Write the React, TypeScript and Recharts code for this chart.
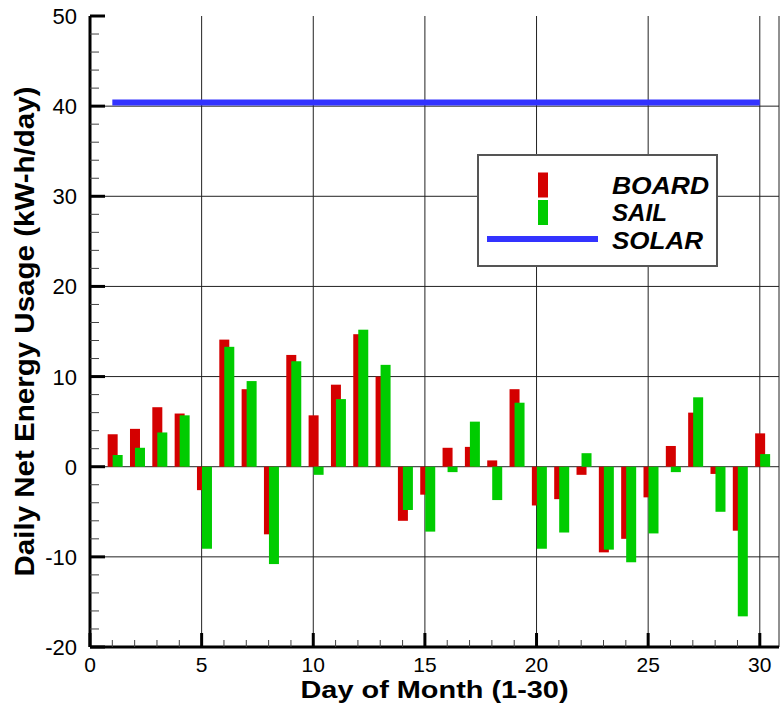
import { Bar, CartesianGrid, ComposedChart, Label, Line, XAxis, YAxis } from "recharts";

// Daily net energy usage, kW-h/day.
const DAYS = [1, 2, 3, 4, 5, 6, 7, 8, 9, 10, 11, 12, 13, 14, 15, 16, 17, 18, 19, 20, 21, 22, 23, 24, 25, 26, 27, 28, 29, 30];
const BOARD = [3.6, 4.2, 6.6, 5.9, -2.6, 14.1, 8.6, -7.5, 12.4, 5.7, 9.1, 14.7, 10.0, -6.0, -3.1, 2.1, 2.2, 0.7, 8.6, -4.3, -3.6, -0.9, -9.5, -8.0, -3.4, 2.3, 6.0, -0.8, -7.1, 3.7];
const SAIL = [1.3, 2.1, 3.8, 5.7, -9.1, 13.3, 9.5, -10.8, 11.7, -0.9, 7.5, 15.2, 11.3, -4.8, -7.2, -0.6, 5.0, -3.7, 7.1, -9.1, -7.3, 1.5, -9.2, -10.6, -7.4, -0.6, 7.7, -5.0, -16.6, 1.4];
const SOLAR = [40.4, 40.4, 40.4, 40.4, 40.4, 40.4, 40.4, 40.4, 40.4, 40.4, 40.4, 40.4, 40.4, 40.4, 40.4, 40.4, 40.4, 40.4, 40.4, 40.4, 40.4, 40.4, 40.4, 40.4, 40.4, 40.4, 40.4, 40.4, 40.4, 40.4];

const X_TICKS = [0, 1, 2, 3, 4, 5, 6, 7, 8, 9, 10, 11, 12, 13, 14, 15, 16, 17, 18, 19, 20, 21, 22, 23, 24, 25, 26, 27, 28, 29, 30];
const X_LABELS = [0, 5, 10, 15, 20, 25, 30];
const Y_TICKS = [-20, -18, -16, -14, -12, -10, -8, -6, -4, -2, 0, 2, 4, 6, 8, 10, 12, 14, 16, 18, 20, 22, 24, 26, 28, 30, 32, 34, 36, 38, 40, 42, 44, 46, 48, 50];
const Y_LABELS = [-20, -10, 0, 10, 20, 30, 40, 50];
const X_MAX = 30.86;

const RED = "#d40000";
const GREEN = "#00cc00";
const BLUE = "#3333ff";
const FONT = "'Liberation Sans', Arial, Helvetica, sans-serif";

const rows = DAYS.map((day, i) => ({ day, board: BOARD[i], sail: SAIL[i], solar: SOLAR[i] }));

// Tecplot style: ticks point into the plot, labels only on the majors.
function XTick(props: any) {
  const { x, y, payload } = props;
  const major = X_LABELS.includes(payload.value);
  return (
    <g>
      <line x1={x} x2={x} y1={y} y2={y - (major ? 14 : 7)} stroke={major ? "#000" : "#444"} strokeWidth={major ? 3 : 1} />
      {major && (
        <text x={x} y={y + 25} textAnchor="middle" fontSize={21} fontFamily={FONT} fill="#000">
          {payload.value}
        </text>
      )}
    </g>
  );
}

function YTick(props: any) {
  const { x, y, payload } = props;
  const major = Y_LABELS.includes(payload.value);
  return (
    <g>
      <line x1={x} x2={x + (major ? 15 : 9)} y1={y} y2={y} stroke={major ? "#000" : "#444"} strokeWidth={major ? 3 : 1} />
      {major && (
        <text x={x - 13} y={y + 8} textAnchor="end" fontSize={22} fontFamily={FONT} fill="#000">
          {payload.value}
        </text>
      )}
    </g>
  );
}

// bars sit a little right of the day, board first, sail overlapping it
function barShape(fill: string) {
  return (p: any) => {
    const top = Math.min(p.y, p.y + p.height);
    return <rect x={p.x + 2.5} y={top} width={p.width} height={Math.abs(p.height)} fill={fill} />;
  };
}

function XTitle(props: any) {
  const { x, width, y } = props.viewBox;
  return (
    <text x={x + width / 2} y={y + 51} textAnchor="middle" fontSize={24} fontWeight="bold" fontFamily={FONT}
      textLength={268} lengthAdjust="spacingAndGlyphs">
      Day of Month (1-30)
    </text>
  );
}

function YTitle(props: any) {
  const { y, height } = props.viewBox;
  const cx = 34;
  const cy = y + height / 2;
  return (
    <text x={cx} y={cy} transform={`rotate(-90, ${cx}, ${cy})`} textAnchor="middle" fontSize={27} fontWeight="bold"
      fontFamily={FONT} textLength={490} lengthAdjust="spacingAndGlyphs">
      Daily Net Energy Usage (kW-h/day)
    </text>
  );
}

const LEGEND = [
  { name: "BOARD", color: RED, kind: "bar", width: 97 },
  { name: "SAIL", color: GREEN, kind: "bar", width: 55 },
  { name: "SOLAR", color: BLUE, kind: "line", width: 91 },
];

function LegendBox() {
  return (
    <div style={{ position: "absolute", left: 477, top: 154, width: 241, height: 113, boxSizing: "border-box",
      border: "2px solid #555", background: "#fff" }}>
      <svg width={237} height={109} style={{ display: "block" }}>
        {LEGEND.map((item, i) => {
          const cy = 29 + i * 27.5;
          return (
            <g key={item.name}>
              {item.kind === "bar" ? (
                <rect x={59} y={cy - 12.5} width={10} height={25} fill={item.color} />
              ) : (
                <rect x={8} y={cy - 4} width={111} height={6} fill={item.color} />
              )}
              <text x={133} y={cy + 8.5} fontSize={24} fontWeight="bold" fontStyle="italic" fontFamily={FONT}
                textLength={item.width} lengthAdjust="spacingAndGlyphs">
                {item.name}
              </text>
            </g>
          );
        })}
      </svg>
    </div>
  );
}

export default function App() {
  return (
    <div style={{ position: "absolute", left: 0, top: 0, width: 780, height: 711, background: "#fff" }}>
      <ComposedChart width={780} height={711} data={rows} margin={{ top: 16, right: 1, bottom: 0, left: 0 }}
        barSize={10} barGap={-5}>
        <CartesianGrid stroke="#222" strokeWidth={1}
          verticalValues={[5, 10, 15, 20, 25, 30, X_MAX]}
          horizontalValues={[-10, 0, 10, 20, 30, 40]} />
        <XAxis dataKey="day" type="number" domain={[0, X_MAX]} ticks={X_TICKS} interval={0} height={64}
          tickSize={0} tickMargin={0} tick={<XTick />} axisLine={{ stroke: "#000", strokeWidth: 3 }}
          allowDataOverflow>
          <Label content={<XTitle />} />
        </XAxis>
        <XAxis xAxisId="top" orientation="top" type="number" domain={[0, X_MAX]} height={0} tick={false}
          tickLine={false} axisLine={{ stroke: "#000", strokeWidth: 3 }} allowDataOverflow />
        <YAxis type="number" domain={[-20, 50]} ticks={Y_TICKS} interval={0} width={90} tickSize={0} tickMargin={0}
          tick={<YTick />} axisLine={{ stroke: "#000", strokeWidth: 3 }} allowDataOverflow>
          <Label content={<YTitle />} />
        </YAxis>
        <Bar dataKey="board" name="BOARD" fill={RED} shape={barShape(RED)} isAnimationActive={false} />
        <Bar dataKey="sail" name="SAIL" fill={GREEN} shape={barShape(GREEN)} isAnimationActive={false} />
        <Line dataKey="solar" name="SOLAR" type="linear" stroke={BLUE} strokeWidth={6} dot={false}
          activeDot={false} isAnimationActive={false} />
      </ComposedChart>
      <LegendBox />
    </div>
  );
}
